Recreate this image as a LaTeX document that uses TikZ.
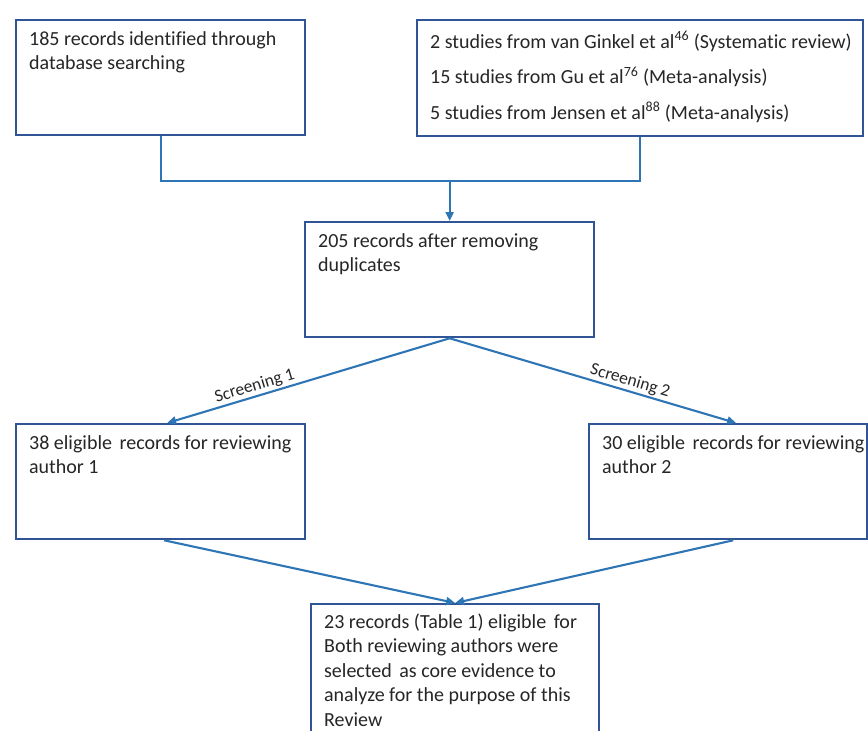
\documentclass[tikz,border=0pt]{standalone}
\usepackage{fontspec}
\setmainfont{Carlito}[Ligatures=NoCommon]
\usetikzlibrary{arrows.meta,calc}
\definecolor{boxblue}{HTML}{2F5597}
\definecolor{linkblue}{HTML}{2E75B6}
\definecolor{txtcol}{HTML}{262626}
\newcommand{\boxtxt}[4]{\parbox[t][#2][t]{#1}{\fontsize{20}{24.5}\selectfont\rule{0pt}{#3}#4}}
\begin{document}
\begin{tikzpicture}[x=1pt,y=-1pt,
  box/.style={draw=boxblue, line width=2.3pt, rectangle, anchor=north west,
    inner xsep=13pt, inner ysep=0pt, text=txtcol, fill=white},
  conn/.style={draw=linkblue, line width=2.1pt},
  arr/.style={conn, -{Triangle[length=9pt,width=8pt]}},
  lab/.style={font=\fontsize{17.5}{19}\selectfont, text=txtcol, inner sep=1.5pt}]
\useasboundingbox (0,0) rectangle (868,731);
\clip (0,0) rectangle (868,731);

\node[box] (b1) at (15,19) {\boxtxt{263pt}{115pt}{25pt}{\mbox{185 records identified through}\\\mbox{database searching}}};
\node[box] (b2) at (416,19) {\boxtxt{420pt}{116pt}{28pt}{\mbox{2 studies from van Ginkel et al\textsuperscript{46} (Systematic review)}\\[11pt]\mbox{15 studies from Gu et al\textsuperscript{76} (Meta-analysis)}\\[11pt]\mbox{5 studies from Jensen et al\textsuperscript{88} (Meta-analysis)}}};
\node[box] (b3) at (304,221) {\boxtxt{263pt}{115pt}{25pt}{\mbox{205 records after removing}\\\mbox{duplicates}}};
\node[box] (b4) at (15,423) {\boxtxt{263pt}{115pt}{25pt}{\mbox{38 eligible\hspace{3pt} records for reviewing}\\\mbox{author 1}}};
\node[box] (b5) at (588,423) {\boxtxt{252pt}{115pt}{25pt}{\mbox{30 eligible\hspace{3pt} records for reviewing}\\\mbox{author 2}}};
\node[box] (b6) at (310,603) {\boxtxt{262pt}{145pt}{24pt}{\mbox{23 records (Table 1) eligible\hspace{3pt} for}\\\mbox{Both reviewing authors were}\\\mbox{selected\hspace{3pt} as core evidence to}\\\mbox{analyze for the purpose of this}\\\mbox{Review}}};

\coordinate (j1) at ($(b1.south)+(0,45)$);
\coordinate (jm) at (b3.north |- j1);
\draw[conn] (b1.south) -- (j1) -| (b2.south);
\draw[arr] (jm) -- (b3.north);

\draw[arr] (b3.south) -- node[lab, pos=0.68, sloped, above] {Screening 1} ([xshift=6.5pt]b4.north);
\draw[arr] (b3.south) -- node[lab, pos=0.62, sloped, above] {Screening 2} ([xshift=8pt]b5.north);

\draw[arr] ([xshift=3.5pt]b4.south) -- (b6.north);
\draw[arr] ([xshift=5pt]b5.south) -- (b6.north);
\end{tikzpicture}
\end{document}
